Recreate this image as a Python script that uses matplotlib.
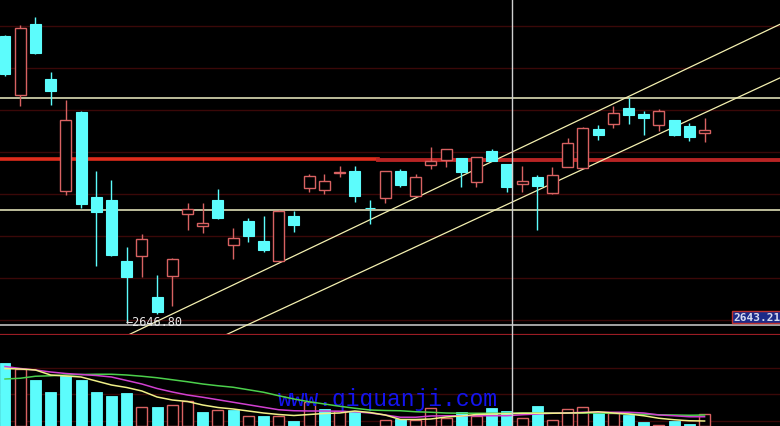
import matplotlib
matplotlib.use("Agg")
import matplotlib.pyplot as plt
import numpy as np

# daily candles (index points)
opens = [2990.0, 2919.2, 3004.4, 2938.4, 2804.0, 2898.8, 2796.8, 2793.2, 2720.0, 2726.0,
	2676.8, 2702.0, 2776.4, 2762.0, 2793.2, 2739.2, 2768.0, 2744.0, 2720.0, 2774.0,
	2807.6, 2805.2, 2826.2, 2828.0, 2784.2, 2795.6, 2828.0, 2798.0, 2835.2, 2841.2,
	2843.6, 2814.8, 2852.0, 2836.4, 2812.4, 2820.8, 2801.6, 2832.8, 2831.6, 2878.4,
	2884.4, 2903.6, 2896.4, 2883.2, 2889.2, 2882.0, 2873.6]
highs = [2991.2, 3003.2, 3012.8, 2946.8, 2913.2, 2900.0, 2828.0, 2817.2, 2736.8, 2752.4,
	2703.2, 2723.6, 2789.6, 2789.6, 2806.4, 2759.6, 2771.6, 2774.0, 2781.2, 2780.0,
	2824.4, 2824.4, 2834.0, 2834.0, 2793.2, 2828.4, 2830.4, 2824.4, 2856.8, 2854.8,
	2844.0, 2845.2, 2854.4, 2836.8, 2834.0, 2823.2, 2832.8, 2867.6, 2880.8, 2883.2,
	2906.0, 2915.6, 2900.0, 2902.4, 2889.6, 2885.6, 2891.6]
lows = [2942.0, 2906.0, 2969.0, 2907.2, 2799.2, 2783.6, 2714.0, 2726.0, 2646.8, 2700.8,
	2656.4, 2666.0, 2757.2, 2753.6, 2771.0, 2722.4, 2742.8, 2730.8, 2720.0, 2754.8,
	2802.8, 2800.4, 2820.8, 2790.8, 2764.0, 2789.6, 2808.8, 2797.6, 2830.4, 2832.8,
	2808.8, 2808.8, 2839.6, 2802.8, 2802.8, 2757.2, 2800.4, 2832.4, 2831.2, 2865.2,
	2879.6, 2884.4, 2871.2, 2876.0, 2870.0, 2864.0, 2862.8]
closes = [2944.4, 2999.6, 2969.6, 2924.0, 2889.2, 2788.4, 2778.8, 2727.2, 2700.8, 2746.4,
	2658.8, 2722.4, 2782.4, 2765.6, 2771.6, 2747.6, 2750.0, 2733.2, 2780.0, 2763.2,
	2822.0, 2816.0, 2826.8, 2798.0, 2783.6, 2828.0, 2811.2, 2820.8, 2840.0, 2854.4,
	2826.8, 2844.8, 2840.0, 2808.8, 2816.0, 2810.0, 2823.2, 2861.6, 2879.6, 2871.2,
	2897.6, 2895.2, 2891.6, 2900.0, 2871.2, 2868.8, 2877.2]

# volume and its moving averages
volumes = [2520, 2280, 1840, 1360, 2000, 1840, 1360, 1200, 1320, 760,
	760, 840, 1000, 560, 640, 640, 400, 400, 400, 200,
	960, 680, 600, 560, 20, 240, 280, 240, 720, 320,
	560, 400, 720, 600, 320, 800, 240, 680, 760, 560,
	520, 440, 160, 40, 200, 80, 480]
vol_up = [0, 1, 0, 0, 0, 0, 0, 0, 0, 1,
	0, 1, 1, 0, 1, 0, 1, 0, 1, 0,
	1, 0, 1, 0, 0, 1, 0, 1, 1, 1,
	0, 1, 0, 0, 1, 0, 1, 1, 1, 0,
	1, 0, 0, 1, 0, 0, 1]
vol_ma5 = [2300, 2280, 2240, 2040, 2000, 1960, 1800, 1640, 1540, 1400,
	1160, 1040, 980, 840, 740, 680, 600, 520, 460, 420,
	460, 500, 520, 600, 540, 440, 260, 260, 280, 360,
	400, 460, 480, 490, 510, 510, 510, 520, 530, 570,
	520, 480, 410, 310, 250, 210, 200]
vol_ma10 = [2380, 2300, 2240, 2160, 2100, 2060, 2020, 1960, 1820, 1680,
	1500, 1360, 1240, 1150, 1050, 950, 850, 750, 650, 610,
	600, 600, 590, 570, 520, 440, 350, 350, 400, 410,
	410, 410, 410, 410, 450, 480, 510, 520, 550, 550,
	550, 550, 520, 440, 410, 370, 370]
vol_ma20 = [1880, 1910, 1990, 2010, 2040, 2060, 2070, 2070, 2040, 1990,
	1930, 1850, 1770, 1680, 1610, 1550, 1450, 1350, 1210, 1080,
	970, 880, 790, 710, 640, 620, 610, 570, 550, 520,
	510, 510, 510, 510, 520, 520, 520, 520, 520, 520,
	510, 480, 470, 450, 440, 430, 440]

# drawn lines
price_grid = [3002.0, 2951.6, 2901.2, 2850.8, 2800.4, 2750.0, 2699.6, 2649.2]
vol_grid = [2320, 1280, 200]
support_levels = [2915.6, 2781.2]
red_level = 2842.4
cursor_price = 2643.2
low_price = 2646.8
low_idx = 8
channel_upper = ([8.1, 51.0], [2631.2, 3004.4])
channel_lower = ([14.5, 51.0], [2631.2, 2940.1])
cursor_idx = 33.34

UP = "#d86262"
DOWN = "#5cfcfc"
BG = "#000000"
GRID = "#3a0808"

n = len(opens)
x = np.arange(n)
xlim = (-0.33, 50.96)

fig = plt.figure(figsize=(7.8, 4.27), dpi=100, facecolor=BG)
ax = fig.add_axes([0, 91 / 427, 1, 336 / 427])
axv = fig.add_axes([0, 0, 1, 91 / 427])
for a in (ax, axv):
	a.set_facecolor(BG)
	a.set_xlim(*xlim)
	a.set_xticks([])
	a.set_yticks([])
	for s in a.spines.values():
		s.set_visible(False)
ax.set_ylim(2631.2, 3034.4)
axv.set_ylim(0, 3640)

# grids and levels
for g in price_grid:
	ax.axhline(g, color=GRID, lw=1, zorder=0)
for g in vol_grid:
	axv.axhline(g, color=GRID, lw=1, zorder=0)
for lv in support_levels:
	ax.axhline(lv, color="#f0f0c4", lw=1.1, zorder=1)
ax.axhline(red_level + 0.4, xmax=0.485, color="#e02c1c", lw=2.6, zorder=1)
ax.axhline(red_level - 0.6, xmin=0.485, color="#b82424", lw=2.8, zorder=1)
ax.axhline(cursor_price, color="#d0d0d0", lw=1.1, zorder=1)
ax.axhline(2631.2, color="#9a1c24", lw=1.6, zorder=5, clip_on=False)
ax.plot(*channel_upper, color="#f4f0b0", lw=0.9, zorder=1)
ax.plot(*channel_lower, color="#f4f0b0", lw=0.9, zorder=1)

# candles
w = 0.72
for i in range(n):
	o, h, l, c = opens[i], highs[i], lows[i], closes[i]
	if c >= o:
		ax.vlines(x[i], l, h, color=UP, lw=1, zorder=2)
		ax.bar(x[i], max(c - o, 0.6), bottom=o, width=w, facecolor=BG, edgecolor=UP, lw=1, zorder=3)
	else:
		ax.vlines(x[i], l, h, color=DOWN, lw=1, zorder=2)
		ax.bar(x[i], o - c, bottom=c, width=w, facecolor=DOWN, edgecolor=DOWN, lw=0.8, zorder=3)

ax.text(low_idx - 0.08, low_price + 0.6, "\u21902646.80", color="#e8e8e8", fontsize=8.6,
	family="DejaVu Sans Mono", ha="left", va="center", zorder=4)
ax.text(47.92, 2652.8, "2643.21", color="#d8dcf0", fontsize=8.0, family="DejaVu Sans Mono",
	fontweight="bold", ha="left", va="center", zorder=6,
	bbox=dict(boxstyle="square,pad=0.12", facecolor="#1c2a88", edgecolor="#c03030", lw=1))

# volume bars
for i in range(n):
	if vol_up[i]:
		axv.bar(x[i], volumes[i], width=w, facecolor=BG, edgecolor=UP, lw=1, zorder=2)
	else:
		axv.bar(x[i], volumes[i], width=w, facecolor=DOWN, edgecolor=DOWN, lw=0.6, zorder=2)

axv.text(17.95, 840, "www.qiquanji.com", color="#1414f0", fontsize=16.6,
	family="Liberation Mono", ha="left", va="baseline", zorder=3)
axv.plot(x, vol_ma20, color="#4cd04c", lw=1.1, zorder=4)
axv.plot(x, vol_ma10, color="#d040d0", lw=1.1, zorder=4)
axv.plot(x, vol_ma5, color="#f0f088", lw=1.1, zorder=4)

# crosshair
ax.axvline(cursor_idx, color="#d0d0d0", lw=1, zorder=5)
axv.axvline(cursor_idx, color="#d0d0d0", lw=1, zorder=5)

fig.savefig("out.png", dpi=100, facecolor=BG)
